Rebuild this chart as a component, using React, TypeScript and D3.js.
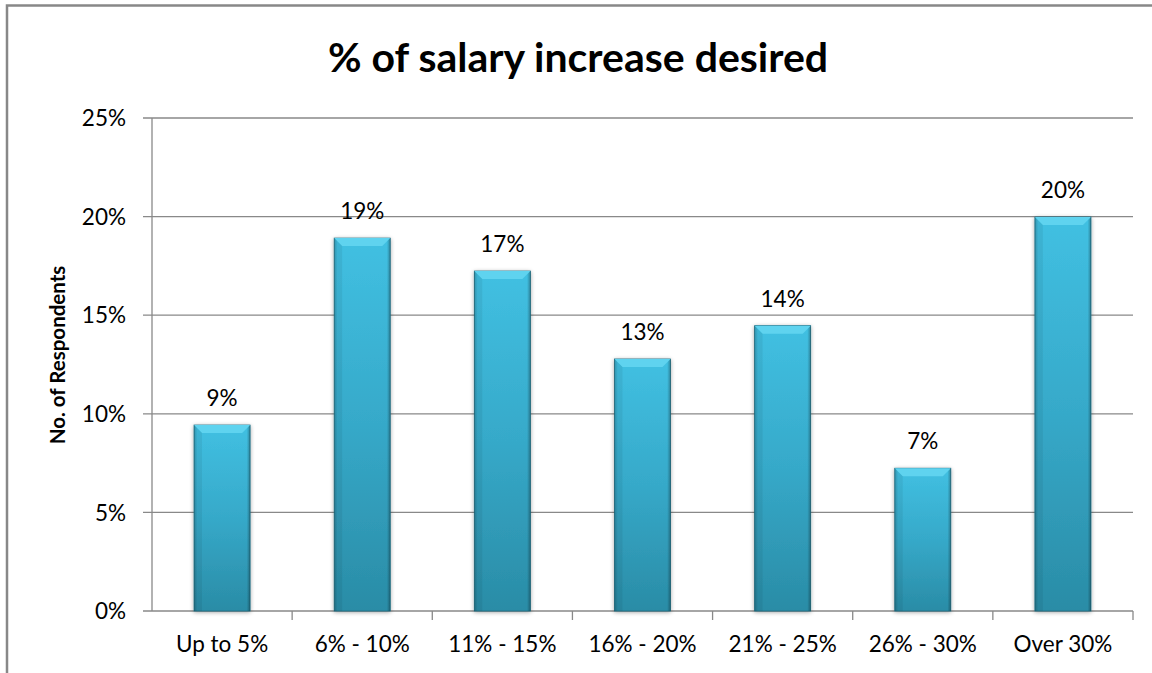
import React from "react";
import * as d3 from "d3";

const categories = ["Up to 5%", "6% - 10%", "11% - 15%", "16% - 20%", "21% - 25%", "26% - 30%", "Over 30%"];
const values = [9.43, 18.91, 17.24, 12.78, 14.47, 7.24, 19.98];
const valueLabels = ["9%", "19%", "17%", "13%", "14%", "7%", "20%"];
const yTicks = [0, 5, 10, 15, 20, 25];
const title = "% of salary increase desired";
const yTitle = "No. of Respondents";

const W = 1152, H = 673;
const left = 152, right = 1133, top = 118, bottom = 611;
const FONT = "Lato, 'Open Sans', sans-serif";

export default function App() {
  const x = d3.scaleBand<string>().domain(categories).range([left, right]).paddingInner(0.6).paddingOuter(0.3);
  const band = d3.scaleBand<string>().domain(categories).range([left, right]);
  const y = d3.scaleLinear().domain([0, 25]).range([bottom, top]);
  const bw = x.bandwidth();
  const bev = 8;
  return (
    <svg width={W} height={H} style={{ position: "absolute", left: 0, top: 0, background: "#fff" }} fontFamily={FONT}>
      <defs>
        <linearGradient id="barV" x1="0" y1="0" x2="0" y2="1">
          <stop offset="0" stopColor="#41c0e2" />
          <stop offset="0.5" stopColor="#36a9c9" />
          <stop offset="1" stopColor="#2a8ca6" />
        </linearGradient>
        <linearGradient id="barH" x1="0" y1="0" x2="1" y2="0">
          <stop offset="0" stopColor="#000" stopOpacity="0.18" />
          <stop offset="0.06" stopColor="#000" stopOpacity="0" />
          <stop offset="0.94" stopColor="#000" stopOpacity="0" />
          <stop offset="1" stopColor="#000" stopOpacity="0.3" />
        </linearGradient>
        <filter id="sh" x="-20%" y="-5%" width="140%" height="110%">
          <feGaussianBlur in="SourceAlpha" stdDeviation="2" />
          <feOffset dx="0" dy="1" />
          <feComponentTransfer><feFuncA type="linear" slope="0.35" /></feComponentTransfer>
          <feMerge><feMergeNode /><feMergeNode in="SourceGraphic" /></feMerge>
        </filter>
      </defs>
      <rect x={7} y={5.5} width={W + 10} height={H + 10} fill="#fff" stroke="#888" strokeWidth={2.5} />
      <text x={578} y={72} textAnchor="middle" fontSize={41} fontWeight="bold" fill="#000">{title}</text>
      {yTicks.map((t) => (
        <g key={t}>
          <line x1={left - 9} x2={right} y1={y(t)} y2={y(t)} stroke="#898989" strokeWidth={1.3} />
          <text x={126} y={y(t)} dy="0.36em" textAnchor="end" fontSize={22.5} fill="#000">{t + "%"}</text>
        </g>
      ))}
      <line x1={left} x2={left} y1={top} y2={bottom} stroke="#898989" strokeWidth={1.3} />
      {categories.map((c, i) => (
        <line key={"t" + i} x1={(band(c) as number) + band.bandwidth()} x2={(band(c) as number) + band.bandwidth()} y1={bottom} y2={bottom + 9} stroke="#898989" strokeWidth={1.3} />
      ))}
      {categories.map((c, i) => {
        const x0 = x(c) as number;
        const y0 = y(values[i]);
        const h = bottom - y0;
        return (
          <g key={c}>
            <g filter="url(#sh)">
              <rect x={x0} y={y0} width={bw} height={h} fill="url(#barV)" stroke="#1f6f84" strokeWidth={0.8} />
            </g>
            <rect x={x0} y={y0} width={bw} height={h} fill="url(#barH)" />
            <polygon points={`${x0},${y0} ${x0 + bw},${y0} ${x0 + bw - bev},${y0 + bev} ${x0 + bev},${y0 + bev}`} fill="#5fd3ef" />
            <polygon points={`${x0},${y0} ${x0 + bev},${y0 + bev} ${x0 + bev},${bottom} ${x0},${bottom}`} fill="#000" fillOpacity={0.06} />
            <text x={x0 + bw / 2} y={y0 - 27} dy="0.36em" textAnchor="middle" fontSize={22.5} fill="#000">{valueLabels[i]}</text>
            <text x={x0 + bw / 2} y={644} dy="0.36em" textAnchor="middle" fontSize={22.5} fill="#000">{c}</text>
          </g>
        );
      })}
      <text transform={`translate(58,355) rotate(-90)`} textAnchor="middle" dy="0.36em" fontSize={20.5} fontWeight="bold" fill="#000">{yTitle}</text>
    </svg>
  );
}
